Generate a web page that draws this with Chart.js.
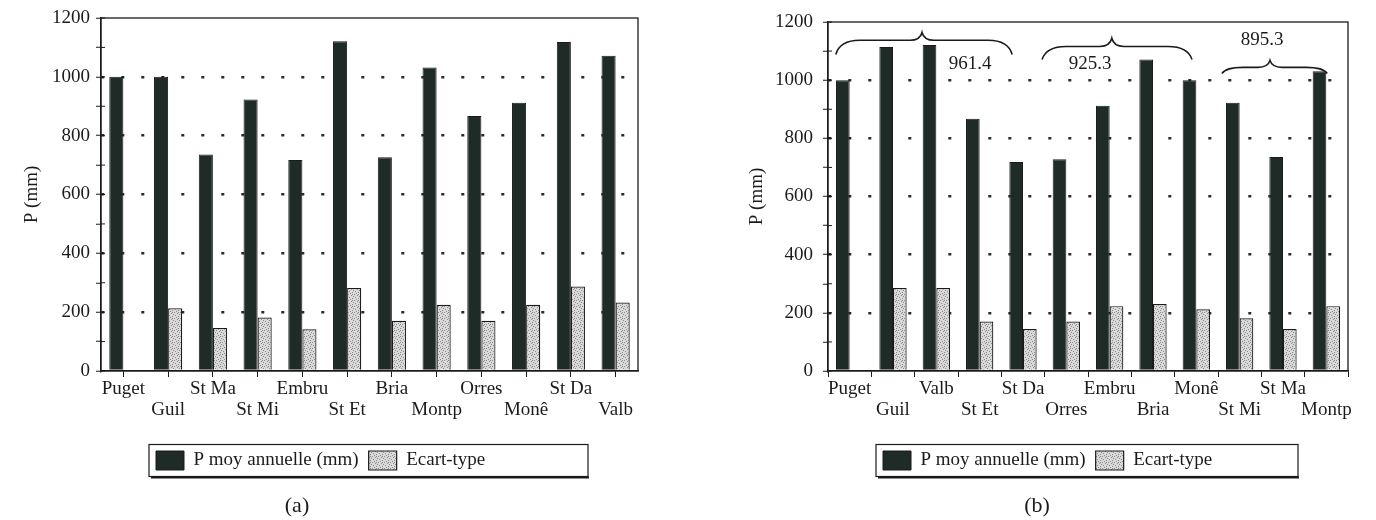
<!DOCTYPE html>
<html>
<head>
<meta charset="utf-8">
<script src="https://cdn.jsdelivr.net/npm/chart.js@4.4.1/dist/chart.umd.min.js"></script>
<style>
    html, body { margin: 0; padding: 0; background: #ffffff; }
    #wrap { position: relative; width: 1376px; height: 520px; overflow: hidden; }
    .panel { position: absolute; top: 0; width: 688px; height: 520px; }
    #panelA { left: 0; }
    #panelB { left: 688px; }
</style>
</head>
<body>
<div id="wrap">
    <div class="panel" id="panelA"><canvas id="chartA" width="688" height="520"></canvas></div>
    <div class="panel" id="panelB"><canvas id="chartB" width="688" height="520"></canvas></div>
</div>

<script>
// (a) stations in their original order
const stationsA = ['Puget', 'Guil', 'St Ma', 'St Mi', 'Embru', 'St Et', 'Bria', 'Montp', 'Orres', 'Monê', 'St Da', 'Valb'];
const pMoyA = [1000, 1000, 736, 923, 717, 1121, 727, 1032, 867, 912, 1118, 1072];
const ecartA = [null, 213, 146, 182, 142, 282, 171, 225, 171, 225, 287, 233];

// (b) stations regrouped
const stationsB = ['Puget', 'Guil', 'Valb', 'St Et', 'St Da', 'Orres', 'Embru', 'Bria', 'Monê', 'St Mi', 'St Ma', 'Montp'];
const pMoyB = [1000, 1114, 1121, 867, 719, 728, 912, 1071, 1000, 922, 736, 1031];
const ecartB = [null, 285, 285, 170, 144, 170, 223, 230, 212, 181, 144, 223];

// group means written over the braces of (b)
const groupMeans = ['961.4', '925.3', '895.3'];

const yTicks = [0, 200, 400, 600, 800, 1000, 1200];

const INK = '#1b1b1b';
const DARK = '#1f2b27';
const FONT = 'Liberation Serif, Times New Roman, serif';

function makeStipple() {
    const c = document.createElement('canvas');
    c.width = 6;
    c.height = 6;
    const g = c.getContext('2d');
    g.fillStyle = '#d9d9d9';
    g.fillRect(0, 0, 6, 6);
    g.fillStyle = '#8c8c8c';
    [[0, 0], [3, 1], [1, 3], [4, 4], [2, 5], [5, 2], [4, 0]].forEach(p => g.fillRect(p[0], p[1], 1, 1));
    return g.createPattern(c, 'repeat');
}

const stipple = makeStipple();

function drawBrace(ctx, x0, x1, xm, yEnd, yLine, yTip) {
    const r = Math.min(24, (x1 - x0) / 5);
    ctx.beginPath();
    ctx.moveTo(x0, yEnd);
    ctx.quadraticCurveTo(x0 + 4, yLine, x0 + r, yLine);
    ctx.lineTo(xm - 12, yLine);
    ctx.quadraticCurveTo(xm - 2, yLine, xm, yTip);
    ctx.quadraticCurveTo(xm + 2, yLine, xm + 12, yLine);
    ctx.lineTo(x1 - r, yLine);
    ctx.quadraticCurveTo(x1 - 4, yLine, x1, yEnd);
    ctx.stroke();
}

// frame, inner tick halves, braces, boxed legend and caption
const paperPlugin = {
    id: 'paper',
    beforeDraw(chart, args, opts) {
        if (chart.legend) {
            chart.legend.left = chart.chartArea.left + 45;
        }
    },
    afterDatasetsDraw(chart, args, opts) {
        const { ctx, chartArea: a, scales } = chart;
        ctx.save();
        ctx.strokeStyle = INK;
        ctx.lineWidth = 1.3;
        ctx.strokeRect(a.left, a.top, a.right - a.left, a.bottom - a.top);

        ctx.lineWidth = 1;
        scales.y.ticks.forEach(t => {
            const y = scales.y.getPixelForValue(t.value);
            ctx.beginPath();
            ctx.moveTo(a.left, y);
            ctx.lineTo(a.left + 4, y);
            ctx.stroke();
        });

        ctx.lineWidth = 1.6;
        ctx.fillStyle = INK;
        ctx.font = '19px ' + FONT;
        ctx.textAlign = 'center';
        ctx.textBaseline = 'middle';
        (opts.braces || []).forEach(b => {
            const x = scales.x, y = scales.y;
            drawBrace(ctx,
                x.getPixelForValue(b.from), x.getPixelForValue(b.to), x.getPixelForValue(b.tip),
                y.getPixelForValue(b.end), y.getPixelForValue(b.line), y.getPixelForValue(b.top));
            ctx.fillText(b.text, x.getPixelForValue(b.textAt), y.getPixelForValue(b.textLevel));
        });
        ctx.restore();
    },
    afterDraw(chart, args, opts) {
        const { ctx, chartArea: a, legend } = chart;
        ctx.save();
        if (legend) {
            const mid = legend.top + 10 + 19 / 2;
            const left = a.left + 48;
            const right = a.right - 50;
            ctx.strokeStyle = INK;
            ctx.lineWidth = 1.2;
            ctx.strokeRect(left, mid - 16, right - left, 32);
            ctx.lineWidth = 2;
            ctx.beginPath();
            ctx.moveTo(left + 2, mid + 17);
            ctx.lineTo(right + 1, mid + 17);
            ctx.stroke();
        }
        ctx.fillStyle = INK;
        ctx.font = '22px ' + FONT;
        ctx.textAlign = 'center';
        ctx.textBaseline = 'middle';
        ctx.fillText(opts.caption, opts.captionX, 506);
        ctx.restore();
    }
};

function buildChart(canvasId, labels, pMoy, ecart, setup) {
    const ctx = document.getElementById(canvasId).getContext('2d');
    return new Chart(ctx, {
        type: 'bar',
        data: {
            labels: labels,
            datasets: [{
                label: 'P moy annuelle (mm)',
                data: pMoy,
                backgroundColor: DARK,
                borderColor: INK,
                borderWidth: 1,
                categoryPercentage: 0.63,
                barPercentage: 1
            }, {
                label: 'Ecart-type',
                data: ecart,
                backgroundColor: stipple,
                borderColor: INK,
                borderWidth: 1.2,
                categoryPercentage: 0.63,
                barPercentage: 1
            }]
        },
        options: {
            responsive: false,
            animation: false,
            layout: {
                padding: { top: setup.top, right: setup.right, bottom: 40, left: 0 }
            },
            plugins: {
                legend: {
                    position: 'bottom',
                    align: 'start',
                    labels: {
                        boxWidth: 28,
                        boxHeight: 19,
                        padding: 10,
                        color: INK,
                        font: { family: FONT, size: 19 }
                    }
                },
                tooltip: { enabled: false },
                paper: {
                    braces: setup.braces,
                    caption: setup.caption,
                    captionX: setup.captionX
                }
            },
            scales: {
                x: {
                    offset: true,
                    grid: {
                        display: true,
                        drawOnChartArea: false,
                        offset: setup.gridOffset,
                        tickLength: 6,
                        tickColor: INK,
                        tickWidth: 1
                    },
                    border: { display: true, color: INK, width: 1.3 },
                    ticks: {
                        autoSkip: false,
                        maxRotation: 0,
                        padding: 1,
                        color: INK,
                        font: { family: FONT, size: 19, lineHeight: 1.13 },
                        callback: function (value, index) {
                            const name = this.getLabelForValue(value);
                            return index % 2 ? ['', name] : name;
                        }
                    },
                    afterFit: function (scale) {
                        scale.height = 70;
                    }
                },
                y: {
                    min: 0,
                    max: 1200,
                    afterBuildTicks: function (scale) {
                        // minor marks every 100 between the labelled ones
                        const list = [];
                        for (let i = 0; i < yTicks.length; i++) {
                            list.push({ value: yTicks[i] });
                            if (i < yTicks.length - 1) {
                                list.push({ value: (yTicks[i] + yTicks[i + 1]) / 2 });
                            }
                        }
                        scale.ticks = list;
                    },
                    ticks: {
                        padding: setup.tickPad,
                        color: INK,
                        font: { family: FONT, size: 19 },
                        callback: v => yTicks.includes(v) ? v : ''
                    },
                    grid: {
                        color: c => (yTicks.includes(c.tick.value) && c.tick.value > 0 && c.tick.value < 1200) ? '#2a2a2a' : 'rgba(0,0,0,0)',
                        lineWidth: 2.5,
                        tickColor: INK,
                        tickLength: 5,
                        tickWidth: 1
                    },
                    border: { display: true, color: INK, width: 1.3, dash: [3, 17] },
                    title: {
                        display: true,
                        text: 'P (mm)',
                        color: INK,
                        font: { family: FONT, size: 19, lineHeight: 1.15 },
                        padding: { top: setup.titlePad, bottom: 0 }
                    },
                    afterFit: function (scale) {
                        scale.width = setup.axisWidth;
                    }
                }
            }
        },
        plugins: [paperPlugin]
    });
}

document.addEventListener('DOMContentLoaded', function () {
    buildChart('chartA', stationsA, pMoyA, ecartA, {
        top: 18,
        right: 50,
        axisWidth: 101,
        tickPad: 6,
        titlePad: 21,
        gridOffset: false,
        caption: '(a)',
        captionX: 297,
        braces: []
    });

    buildChart('chartB', stationsB, pMoyB, ecartB, {
        top: 22,
        right: 28,
        axisWidth: 140,
        tickPad: 10,
        titlePad: 58,
        gridOffset: true,
        caption: '(b)',
        captionX: 349,
        braces: [
            { from: -0.32, to: 3.75, tip: 1.67, end: 1088, line: 1137, top: 1164, text: groupMeans[0], textAt: 2.78, textLevel: 1054 },
            { from: 4.44, to: 7.9, tip: 6.05, end: 1071, line: 1116, top: 1144, text: groupMeans[1], textAt: 5.55, textLevel: 1054 },
            { from: 8.59, to: 11.02, tip: 9.7, end: 1023, line: 1044, top: 1068, text: groupMeans[2], textAt: 9.52, textLevel: 1137 }
        ]
    });
});
</script>
</body>
</html>
